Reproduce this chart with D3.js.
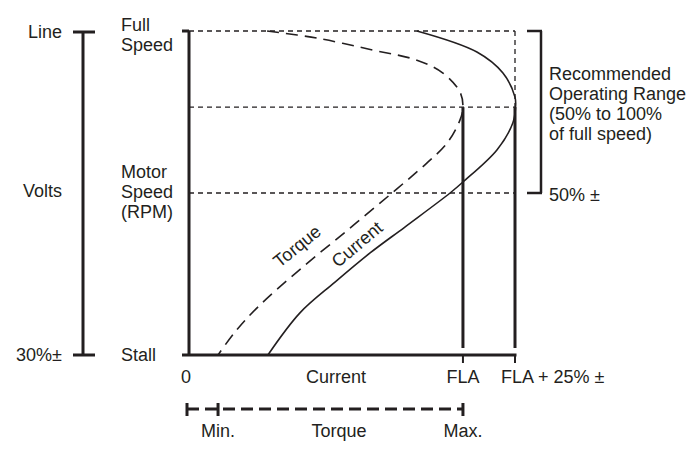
<!DOCTYPE html>
<html>
<head>
<meta charset="utf-8">
<script src="https://cdn.jsdelivr.net/npm/d3@7"></script>
<style>
  body { margin: 0; background: #fff; }
  text { font-family: 'Liberation Sans', Arial, sans-serif; font-size: 18px; fill: #231f20; }
</style>
</head>
<body>
<div class="chart"></div>
<script>
// curves, x = % of FLA, y = % of full speed
const currentX = [83.2, 105.1, 114.6, 119, 119.2, 118.2, 112.4, 100, 95.3, 78.8, 66.1, 53.3, 40.5, 28.8];
const currentSpeed = [100, 93.5, 87, 79.6, 76.5, 71.6, 63.3, 53.4, 50, 39.5, 31.5, 22.5, 13, 0];
const torqueX = [28.5, 46.7, 67.2, 83.2, 92.7, 98.9, 100, 98.9, 94.2, 86.9, 74.1, 58.4, 41.6, 25.5, 16.8, 10.6];
const torqueSpeed = [100, 97.8, 94.1, 91, 87, 81.2, 76.5, 72.5, 65.4, 59.3, 50, 38.9, 27.2, 15.1, 7.1, 0];

const speedLines = [100, 76.5, 50];
const currentTicks = [0, 100, 119];
const currentTickLabels = ['0', 'FLA', 'FLA + 25% ±'];
const voltTicks = [100, 30];
const voltLabels = ['Line', '30%±'];

const width = 694;
const height = 455;

const svg = d3.select('.chart')
  .append('svg')
  .attr('width', width)
  .attr('height', height);

const x = d3.scaleLinear().domain([0, 119]).range([189, 515]);
const y = d3.scaleLinear().domain([0, 100]).range([355, 31]);
const yv = d3.scaleLinear().domain([30, 100]).range([355, 32]);

const ink = '#231f20';

function seg(x1, y1, x2, y2, w, dash) {
  const l = svg.append('line')
    .attr('x1', x1).attr('y1', y1).attr('x2', x2).attr('y2', y2)
    .attr('stroke', ink).attr('stroke-width', w);
  if (dash) l.attr('stroke-dasharray', dash);
  return l;
}

//dotted guide lines
speedLines.forEach(s => seg(x(0), y(s), x(119), y(s), 1.3, '5,4'));
seg(x(119), y(100), x(119), y(76.5), 1.3, '5,4');

//volts bar
seg(83, yv(100), 83, yv(30), 3);
voltTicks.forEach(v => seg(73, yv(v), 95, yv(v), 3));
voltTicks.forEach((v, i) => {
  svg.append('text').attr('x', 62).attr('y', yv(v) + 6)
    .attr('text-anchor', 'end').text(voltLabels[i]);
});
svg.append('text').attr('x', 62).attr('y', 197).attr('text-anchor', 'end').text('Volts');

//speed axis
seg(x(0), y(100), x(0), y(0), 3);
seg(182, y(100), x(0), y(100), 3);
seg(182, y(0), x(119) + 1.5, y(0), 3);

const leftText = [
  { lines: ['Full', 'Speed'], y: 31 },
  { lines: ['Motor', 'Speed', '(RPM)'], y: 178 },
  { lines: ['Stall'], y: 361 }
];
leftText.forEach(d => {
  const t = svg.append('text').attr('x', 121).attr('y', d.y);
  d.lines.forEach((s, i) => t.append('tspan').attr('x', 121).attr('dy', i ? 20 : 0).text(s));
});

//FLA lines
[100, 119].forEach(c => {
  seg(x(c), y(76.5), x(c), 348, 3);
  seg(x(c), 355, x(c), 363, 2);
});

//current labels
currentTicks.forEach((c, i) => {
  svg.append('text')
    .attr('x', i === 2 ? x(c) - 14 : x(c) - (i === 0 ? 3 : 0))
    .attr('y', 383)
    .attr('text-anchor', i === 2 ? 'start' : 'middle')
    .text(currentTickLabels[i]);
});
svg.append('text').attr('x', 336).attr('y', 383).attr('text-anchor', 'middle').text('Current');

//curves
const line = d3.line()
  .x(d => x(d[0]))
  .y(d => y(d[1]))
  .curve(d3.curveCatmullRom.alpha(0.5));

svg.append('path')
  .attr('d', line(currentX.map((v, i) => [v, currentSpeed[i]])))
  .attr('fill', 'none').attr('stroke', ink).attr('stroke-width', 1.6);

svg.append('path')
  .attr('d', line(torqueX.map((v, i) => [v, torqueSpeed[i]])))
  .attr('fill', 'none').attr('stroke', ink).attr('stroke-width', 1.6)
  .attr('stroke-dasharray', '12,7');

svg.append('text')
  .attr('transform', 'translate(301,251) rotate(-39)')
  .attr('text-anchor', 'middle')
  .style('stroke', '#fff').style('stroke-width', 4).style('paint-order', 'stroke')
  .text('Torque');
svg.append('text')
  .attr('transform', 'translate(361,249) rotate(-40)')
  .attr('text-anchor', 'middle')
  .text('Current');

//recommended range bracket
seg(541, y(100), 541, y(50), 2.5);
seg(527, y(100), 542, y(100), 2.5);
seg(527, y(50), 542, y(50), 2.5);
const rec = svg.append('text').attr('x', 549).attr('y', 80);
['Recommended', 'Operating Range', '(50% to 100%', 'of full speed)']
  .forEach((s, i) => rec.append('tspan').attr('x', 549).attr('dy', i ? 20 : 0).text(s));
svg.append('text').attr('x', 549).attr('y', 201).text('50% ±');

//torque range
const tMin = torqueX[torqueX.length - 1];
seg(x(0) - 2, 409, x(100), 409, 3, '12,6');
[x(0) - 2, x(tMin), x(100)].forEach(p => seg(p, 403, p, 416, 3));
svg.append('text').attr('x', x(tMin)).attr('y', 437).attr('text-anchor', 'middle').text('Min.');
svg.append('text').attr('x', 339).attr('y', 437).attr('text-anchor', 'middle').text('Torque');
svg.append('text').attr('x', x(100)).attr('y', 437).attr('text-anchor', 'middle').text('Max.');
</script>
</body>
</html>
